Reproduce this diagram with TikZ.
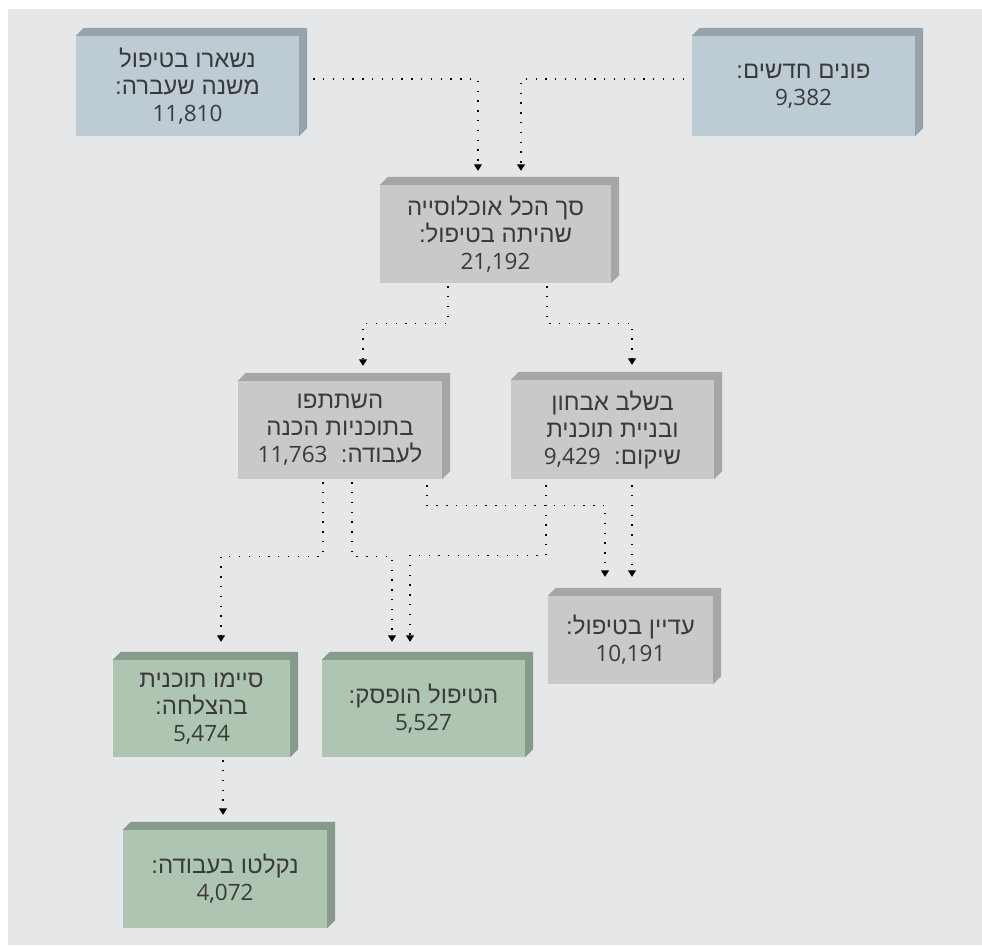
\documentclass[tikz,border=0pt]{standalone}
\usepackage{fontspec}
\usetikzlibrary{arrows.meta}
\newfontfamily\hebfont[Script=Hebrew]{Liberation Sans}
\newfontfamily\numfont{Open Sans}
\TeXXeTstate=1
\definecolor{bgcol}{HTML}{E6E7E9}
\definecolor{textcol}{HTML}{3A3A3A}
\definecolor{blueface}{HTML}{BDCCD4}
\definecolor{blueedge}{HTML}{96A3AB}
\definecolor{grayface}{HTML}{C8C9CB}
\definecolor{grayedge}{HTML}{A5A6A8}
\definecolor{greenface}{HTML}{AEC6B1}
\definecolor{greenedge}{HTML}{879B8A}
\tikzset{
  box/.style={inner sep=0pt, align=center, text=textcol,
    font=\hebfont\fontsize{24}{27}\selectfont},
  bluebox/.style={box, fill=blueface},
  graybox/.style={box, fill=grayface},
  greenbox/.style={box, fill=greenface},
  flow/.style={draw=black, line width=1.3pt, dash pattern=on 1.3pt off 8.5pt,
    -{Triangle[width=8pt,length=6.5pt]}},
}
\newcommand\cnt[1]{{\numfont\fontsize{22.5}{27}\selectfont #1}}
\newcommand\slab[2]{%
  \fill[#2] (#1.north west) -- ++(8pt,8pt) -- ([shift={(8pt,8pt)}]#1.north east)
    -- ([shift={(8pt,8pt)}]#1.south east) -- (#1.south east) -- (#1.north east) -- cycle;}
\begin{document}
\begin{tikzpicture}[x=1pt,y=-1pt]
      \useasboundingbox (0,0) rectangle (982,945);
      \fill[bgcol] (8,9) rectangle (982,945);
      \node[bluebox, minimum width=223pt, minimum height=100pt] (keepon) at (187.5,86)
        {\beginR נשארו בטיפול\endR\\ \beginR משנה שעברה:\endR\\ \cnt{11,810}};
      \node[bluebox, minimum width=223pt, minimum height=100pt] (newin) at (803.5,86)
        {\beginR פונים חדשים:\endR\\ \cnt{9,382}};
      \node[graybox, minimum width=231pt, minimum height=98pt] (total) at (495.5,234)
        {\beginR סך הכל אוכלוסייה\endR\\ \beginR שהיתה בטיפול:\endR\\ \cnt{21,192}};
      \node[graybox, minimum width=204pt, minimum height=98pt] (prep) at (340,430)
        {\beginR השתתפו\endR\\ \beginR בתוכניות הכנה\endR\\ \beginR לעבודה:~~\beginL\cnt{11,763}\endL\endR};
      \node[graybox, minimum width=203pt, minimum height=99pt] (assess) at (612.5,429.5)
        {\beginR בשלב אבחון\endR\\ \beginR ובניית תוכנית\endR\\ \beginR שיקום:~~\beginL\cnt{9,429}\endL\endR};
      \node[graybox, minimum width=165pt, minimum height=88pt] (still) at (630.5,640)
        {\beginR עדיין בטיפול:\endR\\ \cnt{10,191}};
      \node[greenbox, minimum width=177pt, minimum height=97pt] (done) at (201.5,708.5)
        {\beginR סיימו תוכנית\endR\\ \beginR בהצלחה:\endR\\ \cnt{5,474}};
      \node[greenbox, minimum width=203pt, minimum height=97pt] (stopped) at (423.5,708.5)
        {\beginR הטיפול הופסק:\endR\\ \cnt{5,527}};
      \node[greenbox, minimum width=204pt, minimum height=98pt] (hired) at (225,879)
        {\beginR נקלטו בעבודה:\endR\\ \cnt{4,072}};
      \slab{keepon}{blueedge}
      \slab{newin}{blueedge}
      \slab{total}{grayedge}
      \slab{prep}{grayedge}
      \slab{assess}{grayedge}
      \slab{still}{grayedge}
      \slab{done}{greenedge}
      \slab{stopped}{greenedge}
      \slab{hired}{greenedge}
      \begin{scope}[flow]
        \draw[shorten <=14pt, shorten >=14pt] ([yshift=7pt]keepon.east) -| ([xshift=-17.5pt]total.north);
        \draw[shorten <=8pt, shorten >=14pt] ([yshift=7pt]newin.west) -| ([xshift=25.5pt]total.north);
        \draw[shorten <=3pt, shorten >=15pt] ([xshift=-47.5pt]total.south) -- ++(0,40) -| ([xshift=23pt]prep.north);
        \draw[shorten <=3pt, shorten >=15pt] ([xshift=51.5pt]total.south) -- ++(0,40) -| ([xshift=19.5pt]assess.north);
        \draw[shorten <=3pt, shorten >=18pt] ([xshift=-17pt]prep.south) -- ++(0,77) -| ([xshift=19.5pt]done.north);
        \draw[shorten <=3pt, shorten >=18pt] ([xshift=12pt]prep.south) -- ++(0,77) -| ([xshift=-31.5pt]stopped.north);
        \draw[shorten <=6pt, shorten >=19pt] ([xshift=87pt]prep.south) -- ++(0,26) -| ([xshift=-25.5pt]still.north);
        \draw[shorten <=6pt, shorten >=18pt] ([xshift=-66.5pt]assess.south) -- ++(0,76) -| ([xshift=-13.5pt]stopped.north);
        \draw[shorten <=6pt, shorten >=19pt] ([xshift=19.5pt]assess.south) -- ([xshift=1.5pt]still.north);
        \draw[shorten <=3pt, shorten >=15pt] ([xshift=21.5pt]done.south) -- ([xshift=-2pt]hired.north);
      \end{scope}
\end{tikzpicture}
\end{document}
